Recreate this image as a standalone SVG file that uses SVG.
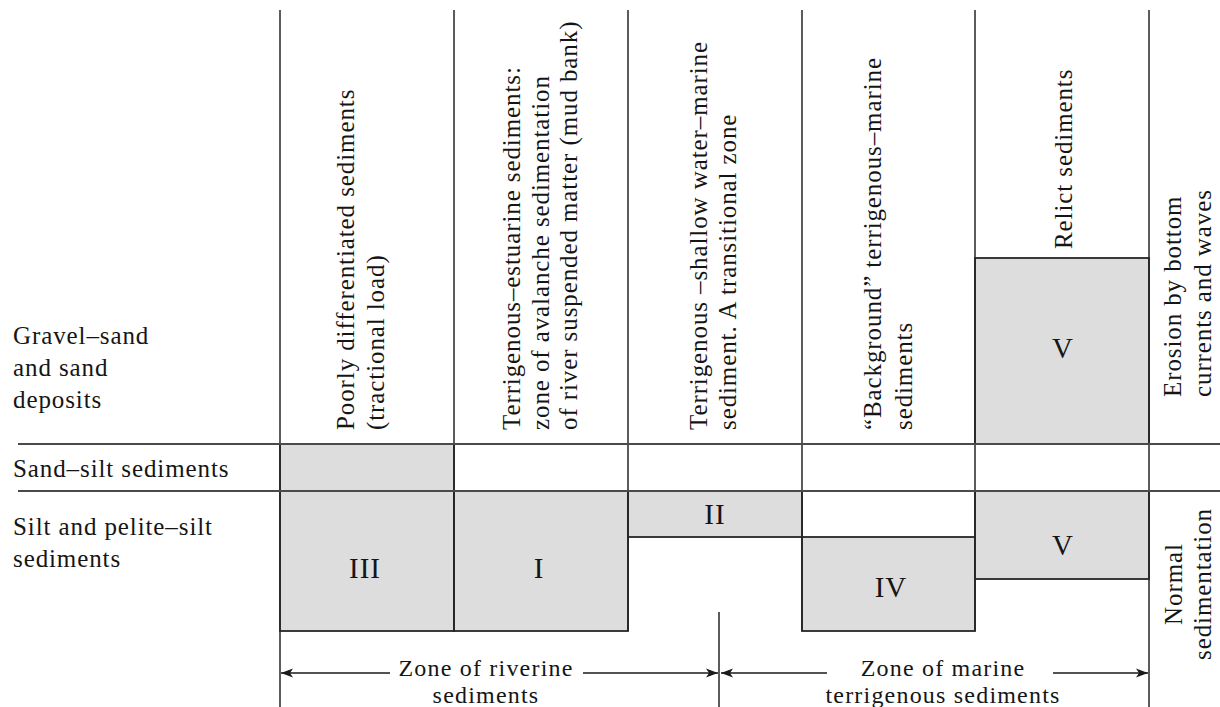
<svg xmlns="http://www.w3.org/2000/svg" width="1220" height="707" viewBox="0 0 1220 707">
<style>
  .t { font-family: "Liberation Serif", "Times New Roman", serif; font-size: 25px; letter-spacing: 0.9px; fill: #151515; }
  .z { font-family: "Liberation Serif", "Times New Roman", serif; font-size: 24px; letter-spacing: 1.2px; fill: #151515; text-anchor: middle; }
  .mid { text-anchor: middle; }
  .lab { font-family: "Liberation Serif", "Times New Roman", serif; font-size: 29px; letter-spacing: 1px; fill: #151515; text-anchor: middle; }
  .box { fill: #dcdddc; stroke: #262626; stroke-width: 1.8; }
  .grid line { stroke: #262626; stroke-width: 1.5; }
  .grid line.row { stroke: #4a4a4a; stroke-width: 2; }
  .arr { stroke: #1a1a1a; stroke-width: 1.4; fill: none; }
</style>
<defs>
  <marker id="ah" markerUnits="userSpaceOnUse" markerWidth="14" markerHeight="10" refX="12" refY="5" orient="auto">
    <path d="M0,0.5 L12,5 L0,9.5 L3,5 z" fill="#1a1a1a"/>
  </marker>
</defs>
<rect x="0" y="0" width="1220" height="707" fill="#ffffff"/>

<g id="boxes">
  <g id="box-sandsilt-1"><rect class="box" x="280" y="444" width="174" height="47"/></g>
  <g id="box-III"><rect class="box" x="280" y="491" width="174" height="140"/><text class="lab" x="365" y="578">III</text></g>
  <g id="box-I"><rect class="box" x="454" y="491" width="174" height="140"/><text class="lab" x="539" y="578">I</text></g>
  <g id="box-II"><rect class="box" x="628" y="491" width="174" height="46"/><text class="lab" x="715" y="524">II</text></g>
  <g id="box-IV"><rect class="box" x="802" y="537" width="173" height="94"/><text class="lab" x="891" y="597">IV</text></g>
  <g id="box-V-low"><rect class="box" x="975" y="491" width="174" height="88"/><text class="lab" x="1063" y="555">V</text></g>
  <g id="box-V-up"><rect class="box" x="975" y="258" width="174" height="186"/><text class="lab" x="1063" y="358">V</text></g>
</g>

<g id="grid" class="grid">
  <line x1="280" y1="10" x2="280" y2="707"/>
  <line x1="454" y1="10" x2="454" y2="631"/>
  <line x1="628" y1="10" x2="628" y2="631"/>
  <line x1="802" y1="10" x2="802" y2="631"/>
  <line x1="975" y1="10" x2="975" y2="631"/>
  <line x1="1149" y1="10" x2="1149" y2="707"/>
  <line x1="719" y1="612" x2="719" y2="707"/>
  <line class="row" x1="18" y1="444" x2="1220" y2="444"/>
  <line class="row" x1="18" y1="491" x2="1220" y2="491"/>
</g>

<g id="row-labels">
  <g id="row-gravel">
    <text class="t" x="13" y="344">Gravel–sand</text>
    <text class="t" x="13" y="376">and sand</text>
    <text class="t" x="13" y="408">deposits</text>
  </g>
  <g id="row-sandsilt"><text class="t" x="13" y="477">Sand–silt sediments</text></g>
  <g id="row-silt">
    <text class="t" x="13" y="535">Silt and pelite–silt</text>
    <text class="t" x="13" y="567">sediments</text>
  </g>
</g>

<g id="column-headers">
  <g id="col1">
    <text class="t" transform="translate(354,430) rotate(-90)">Poorly differentiated sediments</text>
    <text class="t" transform="translate(384,430) rotate(-90)">(tractional load)</text>
  </g>
  <g id="col2">
    <text class="t" transform="translate(520,430) rotate(-90)">Terrigenous–estuarine sediments:</text>
    <text class="t" transform="translate(548.5,430) rotate(-90)">zone of avalanche sedimentation</text>
    <text class="t" transform="translate(577,430) rotate(-90)">of river suspended matter (mud bank)</text>
  </g>
  <g id="col3">
    <text class="t" transform="translate(707,430) rotate(-90)">Terrigenous –shallow water–marine</text>
    <text class="t" transform="translate(736,430) rotate(-90)">sediment. A transitional zone</text>
  </g>
  <g id="col4">
    <text class="t" transform="translate(881,430) rotate(-90)">“Background” terrigenous–marine</text>
    <text class="t" transform="translate(912,430) rotate(-90)">sediments</text>
  </g>
  <g id="col5">
    <text class="t" transform="translate(1072,249) rotate(-90)">Relict sediments</text>
  </g>
  <g id="col6-top">
    <text class="t" transform="translate(1181,397) rotate(-90)">Erosion by bottom</text>
    <text class="t" transform="translate(1211,397) rotate(-90)">currents and waves</text>
  </g>
  <g id="col6-bottom">
    <text class="t mid" transform="translate(1182,584) rotate(-90)">Normal</text>
    <text class="t mid" transform="translate(1211,584) rotate(-90)">sedimentation</text>
  </g>
</g>

<g id="connectors">
  <path class="arr" d="M390,673 L281,673" marker-end="url(#ah)"/>
  <path class="arr" d="M583,673 L718,673" marker-end="url(#ah)"/>
  <path class="arr" d="M827,673 L721,673" marker-end="url(#ah)"/>
  <path class="arr" d="M1053,673 L1148,673" marker-end="url(#ah)"/>
</g>

<g id="zone-labels">
  <g id="zone-riverine">
    <text class="z" x="486" y="676">Zone of riverine</text>
    <text class="z" x="486" y="703">sediments</text>
  </g>
  <g id="zone-marine">
    <text class="z" x="943" y="676">Zone of marine</text>
    <text class="z" x="943" y="703">terrigenous sediments</text>
  </g>
</g>
</svg>
